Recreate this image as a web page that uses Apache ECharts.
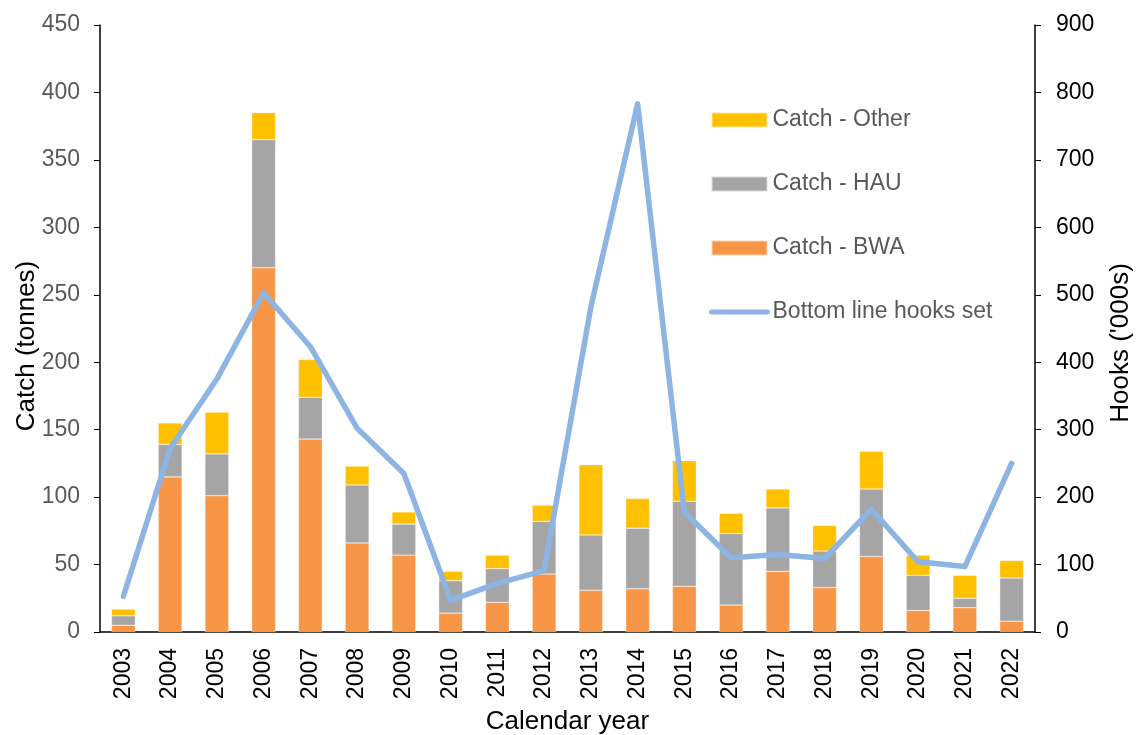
<!DOCTYPE html>
<html>
<head>
<meta charset="utf-8">
<title>Catch and bottom line hooks set</title>
<script src="https://cdn.jsdelivr.net/npm/echarts@6/dist/echarts.min.js"></script>
<style>
  html, body { margin: 0; padding: 0; background: #ffffff; overflow: hidden; }
  #chart { width: 1137px; height: 735px; }
</style>
</head>
<body>
<div id="chart"></div>
<script>
// Calendar years on the category axis
const years = ['2003','2004','2005','2006','2007','2008','2009','2010','2011','2012',
               '2013','2014','2015','2016','2017','2018','2019','2020','2021','2022'];

// Catch by group (tonnes), stacked
const catchBWA   = [5, 115, 101, 270, 143, 66, 57, 14, 22, 43, 31, 32, 34, 20, 45, 33, 56, 16, 18, 8];
const catchHAU   = [7, 24, 31, 95, 31, 43, 23, 24, 25, 39, 41, 45, 63, 53, 47, 27, 50, 26, 7, 32];
const catchOther = [5, 16, 31, 20, 28, 14, 9, 7, 10, 12, 52, 22, 30, 15, 14, 19, 28, 15, 17, 13];

// Bottom line hooks set ('000s)
const hooksSet = [53, 272, 375, 503, 423, 302, 235, 47, 72, 91, 482, 783, 178, 110, 115, 109, 182, 104, 97, 250];

const FONT = '"Liberation Sans", Arial, sans-serif';
const LINE_BLUE = '#8DB4E2';

const chart = echarts.init(document.getElementById('chart'), null, { renderer: 'canvas' });

chart.setOption({
  backgroundColor: '#ffffff',
  animation: false,
  textStyle: { fontFamily: FONT },
  grid: { left: 100, right: 102, top: 25, bottom: 103, containLabel: false, outerBoundsMode: 'none' },
  legend: {
    orient: 'vertical',
    left: 709,
    top: 108,
    padding: 0,
    itemWidth: 56,
    itemHeight: 15,
    itemGap: 40,
    textStyle: { fontFamily: FONT, fontSize: 23, lineHeight: 24, color: '#595959' },
    data: [
      { name: 'Catch - Other', icon: 'rect' },
      { name: 'Catch - HAU', icon: 'rect' },
      { name: 'Catch - BWA', icon: 'rect' },
      {
        name: 'Bottom line hooks set',
        itemStyle: { color: 'rgba(0,0,0,0)', borderColor: 'rgba(0,0,0,0)', borderWidth: 0 },
        lineStyle: { color: LINE_BLUE, width: 5, cap: 'round' }
      }
    ]
  },
  // Value-axis titles, placed as rotated text beside each axis
  graphic: [
    {
      type: 'text', x: 27, y: 346, rotation: Math.PI / 2,
      style: { text: 'Catch (tonnes)', font: '26px ' + FONT, fill: '#000000', align: 'center', verticalAlign: 'middle' }
    },
    {
      type: 'text', x: 1121, y: 343, rotation: Math.PI / 2,
      style: { text: "Hooks ('000s)", font: '26px ' + FONT, fill: '#000000', align: 'center', verticalAlign: 'middle' }
    }
  ],
  xAxis: {
    type: 'category',
    data: years,
    name: 'Calendar year',
    nameLocation: 'middle',
    nameGap: 77,
    nameTextStyle: { fontFamily: FONT, fontSize: 26, color: '#000000' },
    axisLine: { show: true, lineStyle: { color: '#000000', width: 1.5 } },
    axisTick: { show: false },
    axisLabel: { rotate: 90, margin: 16, fontFamily: FONT, fontSize: 23, color: '#000000' }
  },
  yAxis: [
    {
      type: 'value',
      min: 0, max: 450, interval: 50,
      axisLine: { show: true, lineStyle: { color: '#000000', width: 1.5 } },
      axisTick: { show: true, inside: false, length: 6, lineStyle: { color: '#000000' } },
      axisLabel: { margin: 20, fontFamily: FONT, fontSize: 23, color: '#595959' },
      splitLine: { show: false }
    },
    {
      type: 'value',
      min: 0, max: 900, interval: 100,
      position: 'right',
      axisLine: { show: true, lineStyle: { color: '#000000', width: 1.5 } },
      axisTick: { show: true, inside: false, length: 6, lineStyle: { color: '#000000' } },
      axisLabel: { margin: 21, fontFamily: FONT, fontSize: 23, color: '#000000' },
      splitLine: { show: false }
    }
  ],
  series: [
    {
      name: 'Catch - BWA', type: 'bar', stack: 'catch', yAxisIndex: 0,
      barWidth: '51%',
      itemStyle: { color: '#F79646', borderColor: 'rgba(255,255,255,0.6)', borderWidth: 0.5 },
      data: catchBWA
    },
    {
      name: 'Catch - HAU', type: 'bar', stack: 'catch', yAxisIndex: 0,
      barWidth: '51%',
      itemStyle: { color: '#A5A5A5', borderColor: 'rgba(255,255,255,0.6)', borderWidth: 0.5 },
      data: catchHAU
    },
    {
      name: 'Catch - Other', type: 'bar', stack: 'catch', yAxisIndex: 0,
      barWidth: '51%',
      itemStyle: { color: '#FFC000', borderColor: 'rgba(255,255,255,0.6)', borderWidth: 0.5 },
      data: catchOther
    },
    {
      name: 'Bottom line hooks set', type: 'line', yAxisIndex: 1,
      symbol: 'none',
      lineStyle: { color: LINE_BLUE, width: 5.5, cap: 'round', join: 'round' },
      itemStyle: { color: LINE_BLUE },
      z: 5,
      data: hooksSet
    }
  ]
});
</script>
</body>
</html>
